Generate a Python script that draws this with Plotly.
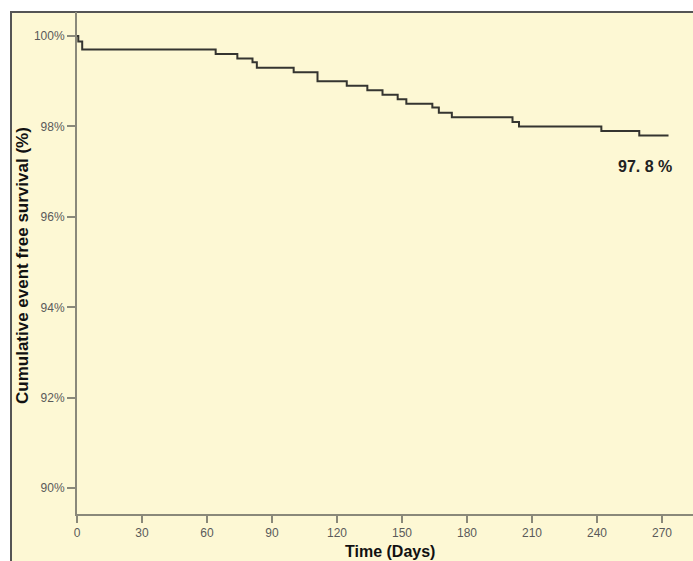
import plotly.graph_objects as go

# Kaplan-Meier step data
days = [0, 0.6, 2.4, 64, 74, 81, 83, 100, 111, 124.5, 134, 141, 148, 152, 164, 167, 173, 201, 204, 242, 259.5, 273]
surv = [100, 99.88, 99.7, 99.6, 99.5, 99.42, 99.3, 99.2, 99.0, 98.9, 98.8, 98.7, 98.6, 98.5, 98.42, 98.3, 98.2, 98.1, 98.0, 97.9, 97.8, 97.8]

x_ticks = [0, 30, 60, 90, 120, 150, 180, 210, 240, 270]
y_ticks = [90, 92, 94, 96, 98, 100]
y_tick_labels = ["90%", "92%", "94%", "96%", "98%", "100%"]

final_label = "97. 8 %"
final_label_pos = (262, 97.11)

BG = "#FDF8D4"
AXIS = "#8a897a"
FONT = "Liberation Sans, Arial, sans-serif"

fig = go.Figure()
fig.add_trace(go.Scatter(
    x=days, y=surv, mode="lines", line=dict(shape="hv", color="#353530", width=2),
    showlegend=False, hoverinfo="skip"))

W, H = 693, 561
L, R, T, B = 77, 0, 12, 47
pw, ph = W - L - R, H - T - B

def px_to_paper_x(px):
    return (px - L) / pw

def px_to_paper_y(py):
    return (H - B - py) / ph

fig.add_shape(type="rect", xref="paper", yref="paper",
              x0=px_to_paper_x(11), x1=1.05, y0=-0.2, y1=px_to_paper_y(12),
              fillcolor=BG, line=dict(color="#555555", width=2), layer="below")

fig.add_annotation(x=final_label_pos[0], y=final_label_pos[1], text="<b>" + final_label + "</b>",
                   showarrow=False, xanchor="center", yanchor="middle",
                   font=dict(family=FONT, size=16, color="#222222"))

fig.add_annotation(xref="paper", yref="paper", x=px_to_paper_x(22), y=px_to_paper_y(266),
                   text="<b>Cumulative event free survival (%)</b>", textangle=-90,
                   xanchor="center", yanchor="middle",
                   showarrow=False, font=dict(family=FONT, size=17, color="#111111"))
fig.add_annotation(xref="paper", yref="paper", x=px_to_paper_x(390), y=px_to_paper_y(551),
                   text="<b>Time (Days)</b>", showarrow=False, xanchor="center", yanchor="middle",
                   font=dict(family=FONT, size=16, color="#111111"))

fig.update_layout(
    width=W, height=H,
    margin=dict(l=L, r=R, t=T, b=B, autoexpand=False),
    paper_bgcolor="white", plot_bgcolor="rgba(0,0,0,0)",
    showlegend=False,
    xaxis=dict(range=[0, 284.3], tickvals=x_ticks, ticks="outside", ticklen=7, tickwidth=2,
               tickcolor=AXIS, showline=True, linecolor=AXIS, linewidth=2, showgrid=False,
               zeroline=False, tickfont=dict(family=FONT, size=12, color="#5a5a5a"),
               automargin=False),
    yaxis=dict(range=[89.43, 100.53], tickvals=y_ticks, ticktext=y_tick_labels, ticks="outside",
               ticklen=8, tickwidth=2, tickcolor=AXIS, showline=True, linecolor=AXIS, linewidth=2,
               showgrid=False, zeroline=False,
               tickfont=dict(family=FONT, size=12, color="#5a5a5a"), automargin=False),
)

fig.write_html("out.html", config={"displayModeBar": False},
               post_script="document.body.style.margin='0';document.body.style.overflow='hidden';")
